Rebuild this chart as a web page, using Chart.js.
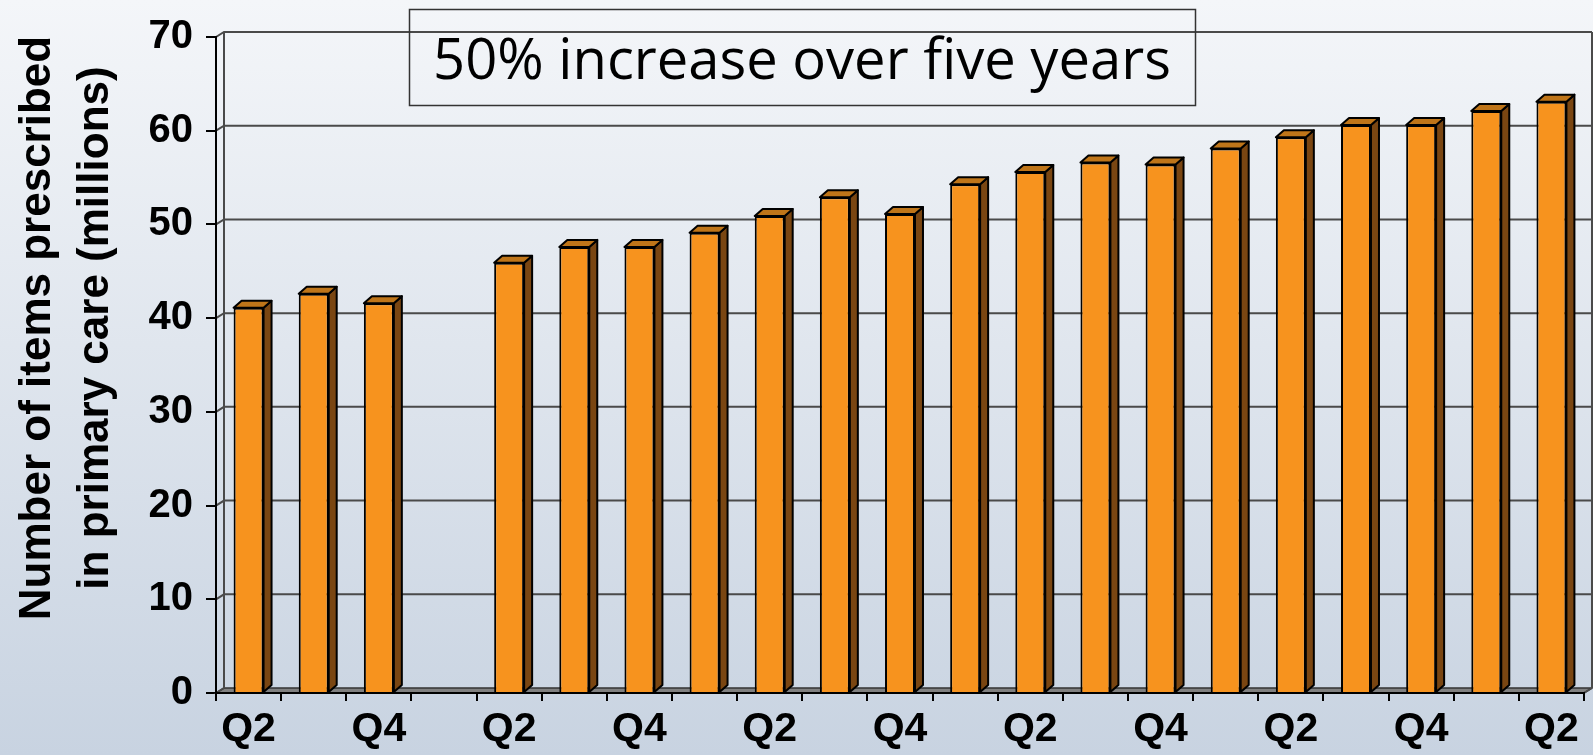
<!DOCTYPE html>
<html>
<head>
<meta charset="utf-8">
<script src="https://cdn.jsdelivr.net/npm/chart.js@4.4.0/dist/chart.umd.min.js"></script>
<style>
  html, body { margin: 0; padding: 0; }
  body { width: 1593px; height: 755px; overflow: hidden;
         background: linear-gradient(to bottom, #f4f6f9 0%, #c8d3e1 100%); }
  #wrap { width: 1593px; height: 755px; position: relative; }
</style>
</head>
<body>
<div id="wrap"><canvas id="myChart"></canvas></div>
<script>
// quarters, starting Q2; the Q1 slot after the first Q4 has no data
var quarters = ['Q2', 'Q3', 'Q4', 'Q1', 'Q2', 'Q3', 'Q4', 'Q1', 'Q2', 'Q3', 'Q4',
                'Q1', 'Q2', 'Q3', 'Q4', 'Q1', 'Q2', 'Q3', 'Q4', 'Q1', 'Q2'];
var items = [41.1, 42.6, 41.6, null, 45.9, 47.6, 47.6, 49.1, 50.9, 52.9, 51.1,
             54.3, 55.6, 56.6, 56.4, 58.1, 59.3, 60.6, 60.6, 62.1, 63.1];
var yMin = 0, yMax = 70, yStep = 10;
var yTitle = ['Number of items prescribed', 'in primary care (millions)'];
var boxText = '50% increase over five years';

var wallDx = 8, wallDy = 5;   // back wall offset
var barDx = 8, barDy = 7;     // bar depth

var threeD = {
    id: 'threeD',
    beforeDatasetsDraw: function (chart) {
        var c = chart.ctx, a = chart.chartArea, y = chart.scales.y;
        c.save();
        // floor
        c.beginPath();
        c.moveTo(a.left, a.bottom);
        c.lineTo(a.left + wallDx, a.bottom - wallDy);
        c.lineTo(a.right + wallDx, a.bottom - wallDy);
        c.lineTo(a.right, a.bottom);
        c.closePath();
        c.fillStyle = '#808080';
        c.fill();
        c.strokeStyle = '#333';
        c.lineWidth = 1.5;
        c.stroke();
        // back wall grid
        c.strokeStyle = '#4a4a4a';
        c.lineWidth = 2;
        y.ticks.forEach(function (t) {
            var py = y.getPixelForValue(t.value);
            c.beginPath();
            c.moveTo(a.left, py);
            c.lineTo(a.left + wallDx, py - wallDy);
            if (t.value > yMin) c.lineTo(a.right + wallDx, py - wallDy);
            c.stroke();
        });
        var top = y.getPixelForValue(yMax) - wallDy, bot = a.bottom - wallDy;
        c.beginPath();
        c.moveTo(a.left + wallDx, top); c.lineTo(a.left + wallDx, bot);
        c.moveTo(a.right + wallDx, top); c.lineTo(a.right + wallDx, bot);
        c.moveTo(a.right, a.bottom); c.lineTo(a.right + wallDx, bot);
        c.stroke();
        c.restore();
    },
    afterDatasetsDraw: function (chart) {
        var c = chart.ctx;
        c.save();
        c.lineWidth = 2;
        c.strokeStyle = '#000';
        c.lineJoin = 'round';
        chart.getDatasetMeta(0).data.forEach(function (bar, i) {
            if (items[i] === null) return;
            var p = bar.getProps(['x', 'y', 'base', 'width'], true);
            var l = p.x - p.width / 2, r = p.x + p.width / 2;
            // side
            c.beginPath();
            c.moveTo(r, p.y);
            c.lineTo(r + barDx, p.y - barDy);
            c.lineTo(r + barDx, p.base - barDy);
            c.lineTo(r, p.base);
            c.closePath();
            c.fillStyle = '#7a4612';
            c.fill();
            c.stroke();
            // top
            c.beginPath();
            c.moveTo(l, p.y);
            c.lineTo(l + barDx, p.y - barDy);
            c.lineTo(r + barDx, p.y - barDy);
            c.lineTo(r, p.y);
            c.closePath();
            c.fillStyle = '#bf7519';
            c.fill();
            c.stroke();
        });
        c.restore();
    },
    afterDraw: function (chart) {
        var c = chart.ctx;
        c.save();
        // y axis title, two centred lines
        c.fillStyle = '#000';
        c.font = 'bold 44px "Liberation Sans", Arial, sans-serif';
        c.textAlign = 'center';
        c.textBaseline = 'middle';
        [38, 96].forEach(function (x, k) {
            c.save();
            c.translate(x, 328);
            c.rotate(-Math.PI / 2);
            c.fillText(yTitle[k], 0, 0);
            c.restore();
        });
        // text box
        c.strokeStyle = '#333';
        c.lineWidth = 1.5;
        c.strokeRect(409.5, 9.5, 786, 96);
        var size = 52;
        c.font = size + 'px "Open Sans", sans-serif';
        size = size * 738 / c.measureText(boxText).width;
        c.font = size + 'px "Open Sans", sans-serif';
        c.textBaseline = 'alphabetic';
        c.fillText(boxText, 802, 79);
        c.restore();
    }
};

var ctx = document.getElementById('myChart').getContext('2d');
var myChart = new Chart(ctx, {
    type: 'bar',
    data: {
        labels: quarters,
        datasets: [{
            data: items,
            backgroundColor: '#f7931e',
            borderColor: '#000',
            borderWidth: 2,
            borderSkipped: 'bottom',
            barPercentage: 0.46,
            categoryPercentage: 1
        }]
    },
    options: {
        responsive: true,
        maintainAspectRatio: false,
        animation: false,
        layout: { padding: { left: 0, right: 9, top: 30, bottom: 0 } },
        plugins: { legend: { display: false }, tooltip: { enabled: false } },
        scales: {
            x: {
                grid: { display: true, drawOnChartArea: false, drawTicks: true, tickLength: 8,
                        color: '#000', lineWidth: 2 },
                border: { display: true, color: '#000', width: 2, z: 1 },
                ticks: {
                    autoSkip: false, maxRotation: 0, padding: 4, color: '#000',
                    font: { family: '"Liberation Sans", Arial, sans-serif', size: 41, weight: 'bold' },
                    callback: function (v, i) { return i % 2 === 0 ? this.getLabelForValue(v) : ''; }
                },
                afterFit: function (s) { s.height = 62; }
            },
            y: {
                min: yMin, max: yMax,
                grid: { display: true, drawOnChartArea: false, drawTicks: true, tickLength: 10,
                        color: '#000', lineWidth: 2 },
                border: { display: true, color: '#000', width: 2, z: 1 },
                ticks: {
                    stepSize: yStep, padding: 13, color: '#000',
                    font: { family: '"Liberation Sans", Arial, sans-serif', size: 40, weight: 'bold' }
                },
                afterFit: function (s) { s.width = 216; }
            }
        }
    },
    plugins: [threeD]
});
</script>
</body>
</html>
